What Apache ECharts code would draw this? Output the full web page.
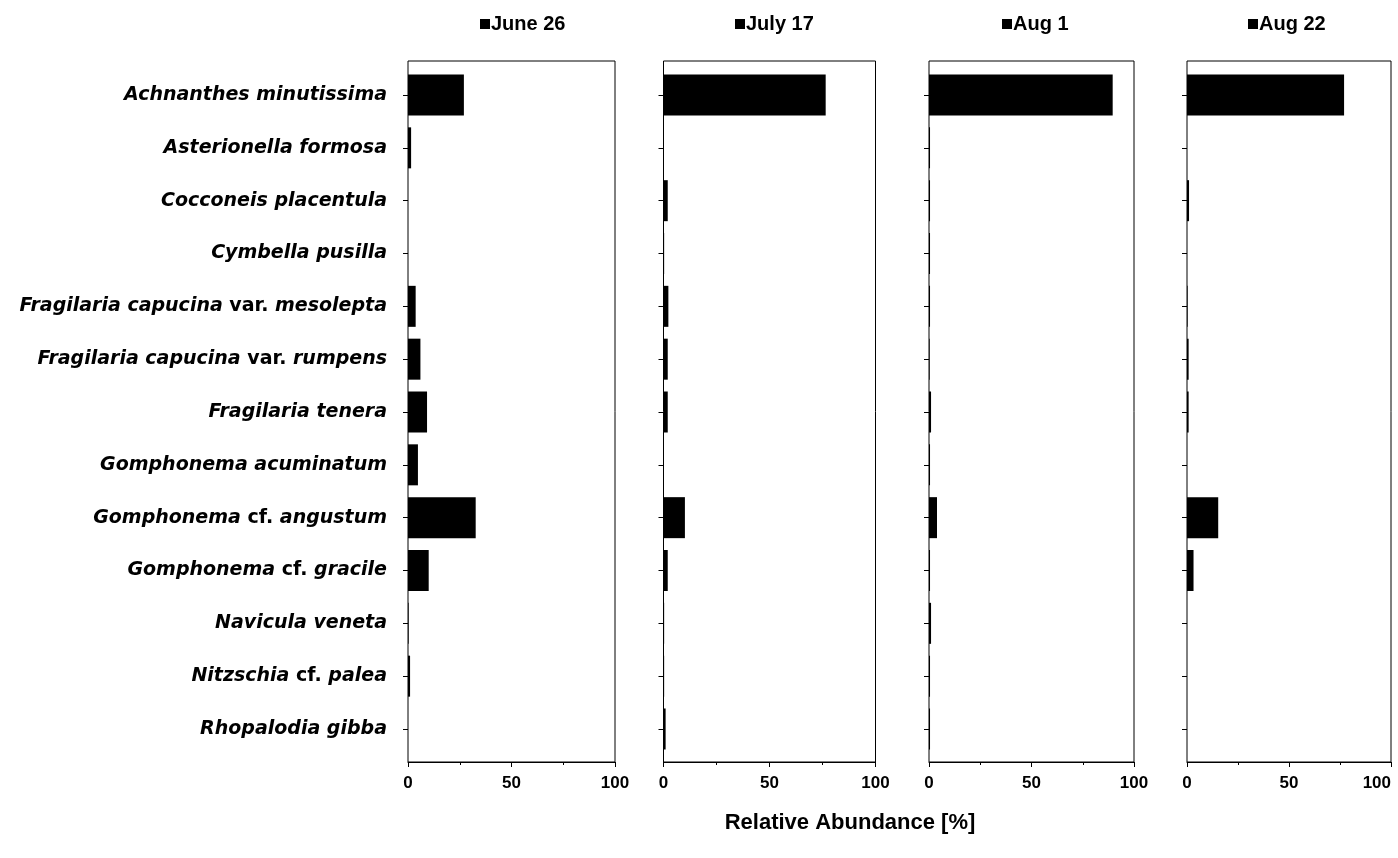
<!DOCTYPE html>
<html>
<head>
<meta charset="utf-8">
<script src="https://cdn.jsdelivr.net/npm/echarts@6/dist/echarts.min.js"></script>
<style>
  html, body { margin: 0; padding: 0; background: #fff; }
  #chart { width: 1398px; height: 858px; }
</style>
</head>
<body>
<div id="chart"></div>
<script>
const categories = [
  'Achnanthes minutissima',
  'Asterionella formosa',
  'Cocconeis placentula',
  'Cymbella pusilla',
  'Fragilaria capucina var. mesolepta',
  'Fragilaria capucina var. rumpens',
  'Fragilaria tenera',
  'Gomphonema acuminatum',
  'Gomphonema cf. angustum',
  'Gomphonema cf. gracile',
  'Navicula veneta',
  'Nitzschia cf. palea',
  'Rhopalodia gibba'
];
const seriesNames = ['June 26', 'July 17', 'Aug 1', 'Aug 22'];
const june26 = [27, 1.5, 0, 0, 3.7, 6, 9.2, 4.8, 32.7, 10, 0.3, 1, 0];
const july17 = [76.5, 0, 2, 0.3, 2.3, 2, 2, 0, 10.1, 2, 0.3, 0.3, 1];
const aug1   = [89.6, 0.5, 0.5, 0.5, 0.5, 0.3, 1, 0.5, 3.9, 0.5, 1, 0.5, 0.5];
const aug22  = [77, 0, 1, 0, 0.3, 0.8, 0.8, 0, 15.3, 3.2, 0, 0, 0];
const xTicks = [0, 50, 100];

const seriesValues = [june26, july17, aug1, aug22];
const panelLeft = [408, 663.5, 929, 1187];
const panelRight = [615, 875.5, 1134, 1391];
const legendLeft = [475, 730, 997, 1243];

const frameTop = 61, frameHeight = 701;
const dataTop = 68.6, dataHeight = 686.8;

function labelFormatter(v) {
  return v.split(' ').map(w => (w === 'var.' || w === 'cf.') ? '{n|' + w + '}' : '{i|' + w + '}').join('{i| }');
}

const grid = [], xAxis = [], yAxis = [], series = [], legend = [];
for (let p = 0; p < 4; p++) {
  const w = panelRight[p] - panelLeft[p];
  grid.push({ left: panelLeft[p], top: frameTop, width: w, height: frameHeight, outerBoundsMode: 'none',
    containLabel: false, show: true, borderColor: '#000', borderWidth: 1, backgroundColor: 'transparent' });
  grid.push({ left: panelLeft[p], top: dataTop, width: w, height: dataHeight, outerBoundsMode: 'none',
    containLabel: false, show: false });
  const fg = 2 * p, dg = 2 * p + 1;
  xAxis.push({
    type: 'value', gridIndex: fg, min: xTicks[0], max: xTicks[xTicks.length - 1], interval: 50,
    axisLine: { show: true, lineStyle: { color: '#000', width: 1 } },
    axisTick: { show: true, length: 5, lineStyle: { color: '#000' } },
    minorTick: { show: true, splitNumber: 2, length: 3, lineStyle: { color: '#000' } },
    splitLine: { show: false },
    axisLabel: { color: '#000', fontFamily: 'Liberation Sans', fontWeight: 'bold', fontSize: 17, margin: 13,
      alignMaxLabel: p === 3 ? 'right' : null,
      formatter: v => xTicks.includes(v) ? String(v) : '' }
  });
  xAxis.push({ type: 'value', gridIndex: dg, min: 0, max: 100, show: false });
  yAxis.push({ type: 'value', gridIndex: fg, show: false, min: 0, max: 1 });
  yAxis.push({
    type: 'category', gridIndex: dg, data: categories, inverse: true,
    axisLine: { show: false },
    axisTick: { show: true, alignWithLabel: true, length: 5, lineStyle: { color: '#000' } },
    axisLabel: {
      show: p === 0, margin: 21, formatter: labelFormatter,
      rich: {
        i: { fontFamily: 'DejaVu Sans', fontStyle: 'italic', fontWeight: 'bold', fontSize: 19, color: '#000' },
        n: { fontFamily: 'DejaVu Sans', fontStyle: 'normal', fontWeight: 'bold', fontSize: 19, color: '#000' }
      }
    }
  });
  series.push({
    type: 'bar', name: seriesNames[p], xAxisIndex: 2 * p + 1, yAxisIndex: 2 * p + 1,
    data: seriesValues[p], barWidth: 41, itemStyle: { color: '#000' }, silent: true
  });
  legend.push({
    data: [seriesNames[p]], left: legendLeft[p], top: 9, icon: 'rect', itemWidth: 10, itemHeight: 10,
    selectedMode: false,
    textStyle: { fontFamily: 'Liberation Sans', fontWeight: 'bold', fontSize: 20, color: '#000', padding: [0, 0, 0, -4] }
  });
}

const chart = echarts.init(document.getElementById('chart'), null, { renderer: 'canvas' });
chart.setOption({
  animation: false,
  backgroundColor: '#fff',
  title: {
    text: 'Relative Abundance [%]', left: 845, top: 807, textAlign: 'center',
    textStyle: { fontFamily: 'Liberation Sans', fontWeight: 'bold', fontSize: 22, color: '#000' }
  },
  legend, grid, xAxis, yAxis, series
});
</script>
</body>
</html>
